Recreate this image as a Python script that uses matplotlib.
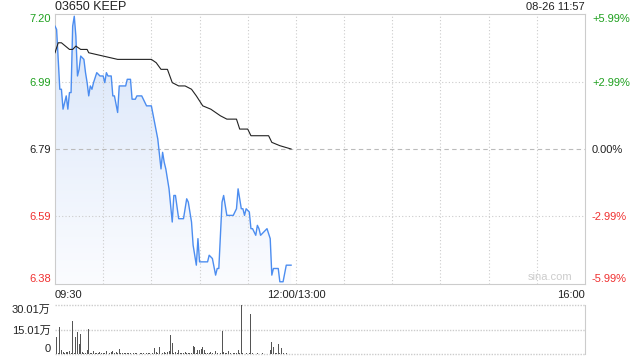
import numpy as np
import matplotlib
matplotlib.use("Agg")
import matplotlib.pyplot as plt
from matplotlib.colors import LinearSegmentedColormap

plt.rcParams['font.family'] = ['Liberation Sans', 'Noto Sans CJK SC', 'DejaVu Sans']

# trading minutes from 09:30 (12:00 and 13:00 share minute 150)
price_min = [0, 1, 3, 4, 5, 7, 8, 9, 10, 11, 12, 13, 14, 15, 16, 18, 19, 20, 21, 22,
             23, 24, 26, 28, 30, 31, 32, 33, 35, 36, 37, 39, 40, 44, 45, 47, 48, 50, 51, 54,
             55, 57, 60, 62, 64, 66, 67, 68, 69, 71, 73, 74, 75, 77, 80, 82, 83, 85, 86, 88,
             89, 90, 95, 96, 98, 100, 101, 102, 104, 105, 107, 111, 113, 114, 116, 117, 118, 119, 121, 122,
             123, 125, 126, 127, 128, 130, 132, 134, 135, 136, 139, 140, 142, 144, 146, 147]
price = [7.16, 7.15, 6.97, 6.97, 6.91, 6.95, 6.91, 6.96, 6.96, 7.16, 7.19, 7.13, 7.01, 7.03, 7.07, 7.06, 7.02, 6.99, 6.95, 6.98,
         6.97, 6.99, 7.02, 7.01, 7.01, 6.99, 7.02, 7.01, 7.01, 6.95, 6.95, 6.90, 6.98, 6.98, 7.00, 7.00, 6.94, 6.94, 6.95, 6.95,
         6.94, 6.92, 6.92, 6.87, 6.82, 6.73, 6.78, 6.75, 6.73, 6.67, 6.57, 6.65, 6.65, 6.58, 6.58, 6.64, 6.63, 6.57, 6.50, 6.44,
         6.52, 6.45, 6.45, 6.47, 6.46, 6.41, 6.43, 6.43, 6.63, 6.65, 6.59, 6.59, 6.61, 6.67, 6.61, 6.61, 6.59, 6.61, 6.60, 6.55,
         6.55, 6.53, 6.56, 6.55, 6.53, 6.54, 6.55, 6.52, 6.41, 6.43, 6.43, 6.39, 6.39, 6.44, 6.44, 6.44]

avg_min = [0, 2, 4, 9, 11, 13, 16, 20, 21, 30, 39, 60, 63, 66, 70, 73, 77, 81, 85, 88,
           92, 97, 100, 103, 107, 113, 115, 120, 122, 133, 135, 140, 147]
avg = [7.08, 7.11, 7.11, 7.09, 7.09, 7.10, 7.09, 7.09, 7.08, 7.07, 7.06, 7.06, 7.05, 7.03, 7.03, 6.99, 6.98, 6.98, 6.97, 6.95,
       6.92, 6.91, 6.90, 6.89, 6.88, 6.88, 6.85, 6.85, 6.83, 6.83, 6.81, 6.80, 6.79]

# volume per minute, in 万 shares
volume = [20.2, 10.6, 0.5, 16.7, 2.4, 1.0, 0.6, 1.2, 1.0, 1.8, 0.4, 20.2, 0.5, 10.6, 13.7, 5.9, 12.0, 1.0, 0.4, 0.6,
          2.4, 15.3, 0.5, 0.8, 1.8, 0.5, 0.8, 0.4, 1.4, 0.5, 0.8, 0.6, 1.8, 1.2, 0.5, 1.4, 1.6, 0.5, 1.0, 0.4,
          2.9, 0.8, 0.6, 0.5, 0.4, 0.6, 0.4, 0.5, 0.3, 0.6, 0.4, 0.5, 0.3, 0.6, 0.4, 0.5, 0.3, 0.5, 0.4, 0.6,
          0.3, 0.5, 3.5, 1.0, 0.5, 4.5, 7.5, 0.5, 1.0, 0.4, 1.0, 1.8, 11.6, 6.5, 0.5, 1.0, 0.4, 2.4, 0.5, 0.5,
          0.4, 1.4, 0.5, 0.5, 0.5, 0.4, 5.1, 4.5, 0.6, 2.4, 2.4, 3.1, 4.5, 2.4, 0.5, 0.4, 0.6, 1.4, 0.5, 2.4,
          1.8, 0.5, 0.3, 0.4, 14.1, 1.0, 0.4, 0.5, 1.8, 0.4, 0.3, 0.4, 0.5, 0.4, 2.4, 0.5, 30.01, 0.4, 0.3, 0.4,
          0.3, 0.5, 24.7, 0.4, 0.3, 0.3, 0.4, 0.3, 0.3, 0.4, 0.3, 0.3, 0.4, 0.3, 2.4, 7.5, 4.5, 0.5, 0.4, 5.9,
          0.5, 3.9, 0.5, 0.3, 0.5, 0.3, 0.2, 0.2]

prev_close = 6.79
pct_levels = [0.0599, 0.0299, 0.0, -0.0299, -0.0599]
x_labels = ['09:30', '12:00/13:00', '16:00']
x_label_pos = [0, 150, 330]
title = '03650 KEEP'
stamp = '08-26 11:57'

GREEN = '#1ea01e'
RED = '#f03030'
GRID = '#cccccc'

fig = plt.figure(figsize=(6.4, 3.6), dpi=100)
W, H = 640, 360
ax = fig.add_axes([55 / W, (H - 284) / H, 530 / W, 270 / H])
axv = fig.add_axes([55 / W, (H - 354) / H, 530 / W, 49 / H])

levels = [prev_close * (1 + p) for p in pct_levels]
ylo, yhi = levels[-1], levels[0]

# price line with gradient fill
poly = ax.fill_between(price_min, price, ylo, color='none', lw=0)
cmap = LinearSegmentedColormap.from_list('g', ['#fbfcff', '#d8e5f9'])
grad = np.linspace(0, 1, 256).reshape(-1, 1)
im = ax.imshow(grad, extent=[0, price_min[-1], ylo, yhi], origin='lower',
               aspect='auto', cmap=cmap, zorder=1)
im.set_clip_path(poly.get_paths()[0], transform=ax.transData)
ax.plot(price_min, price, color='#4c8df0', lw=1.0, zorder=4)
ax.plot(avg_min, avg, color='#222222', lw=0.8, zorder=4)

ax.set_xlim(0, 330)
ax.set_ylim(ylo, yhi)

# grid
for m in range(30, 330, 30):
    ax.axvline(m, color=GRID, lw=0.8, ls=(0, (1, 2)), zorder=2)
for i, lv in enumerate(levels[1:-1]):
    if pct_levels[i + 1] == 0:
        ax.axhline(lv, color='#bbbbbb', lw=0.8, ls=(0, (4, 3)), zorder=2)
    else:
        ax.axhline(lv, color=GRID, lw=0.8, ls=(0, (1, 2)), zorder=2)

for s in ax.spines.values():
    s.set_color(GRID)
    s.set_linewidth(0.8)

ax.set_yticks(levels)
ax.set_yticklabels([f'{v:.2f}' for v in levels], fontsize=8)
ax.tick_params(axis='y', length=0, pad=3)
ax.set_xticks(x_label_pos)
ax.set_xticklabels(x_labels, fontsize=8, color='#222222')
ax.tick_params(axis='x', length=0, pad=4)
xt = ax.get_xticklabels()
xt[0].set_ha('left')
xt[-1].set_ha('right')

def style_labels(labels):
    n = len(labels)
    for i, t in enumerate(labels):
        p = pct_levels[i]
        t.set_color(GREEN if p > 0 else (RED if p < 0 else '#222222'))
        if i == 0:
            t.set_va('top')
        elif i == n - 1:
            t.set_va('bottom')

style_labels(ax.get_yticklabels())

axr = ax.twinx()
axr.set_ylim(ylo, yhi)
axr.set_yticks(levels)
axr.set_yticklabels([f'{p * 100:+.2f}%' if p != 0 else '0.00%' for p in pct_levels], fontsize=8)
axr.tick_params(axis='y', length=0, pad=5)
for s in axr.spines.values():
    s.set_visible(False)
style_labels(axr.get_yticklabels())

ax.text(0, 1.026, title, transform=ax.transAxes, ha='left', va='center', fontsize=9, color='#222222')
ax.text(1, 1.026, stamp, transform=ax.transAxes, ha='right', va='center', fontsize=8, color='#222222')
ax.text(0.977, 0.008, 'sina.com', transform=ax.transAxes, ha='right', va='bottom',
        fontsize=8, color='#cccccc', zorder=3)

# volume panel
vmax = max(volume)
axv.bar(range(len(volume)), volume, width=0.6, color='#555555', zorder=3)
axv.set_xlim(0, 330)
axv.set_ylim(0, vmax)
for lv in [0, vmax / 2, vmax]:
    axv.axhline(lv, color=GRID, lw=1.0, ls=(0, (1, 1)), zorder=2, clip_on=False)
for k in ['left', 'top', 'bottom']:
    axv.spines[k].set_visible(False)
axv.spines['right'].set_color(GRID)
axv.spines['right'].set_linewidth(0.8)
axv.set_xticks([])
axv.set_yticks([0, vmax / 2, vmax])
axv.set_yticklabels(['0', f'{vmax / 2:.2f}万', f'{vmax:.2f}万'], fontsize=8, color='#222222')
axv.tick_params(axis='y', length=0, pad=3)
vl = axv.get_yticklabels()
vl[0].set_va('bottom')
vl[-1].set_va('top')

fig.savefig('out.png', dpi=100)
